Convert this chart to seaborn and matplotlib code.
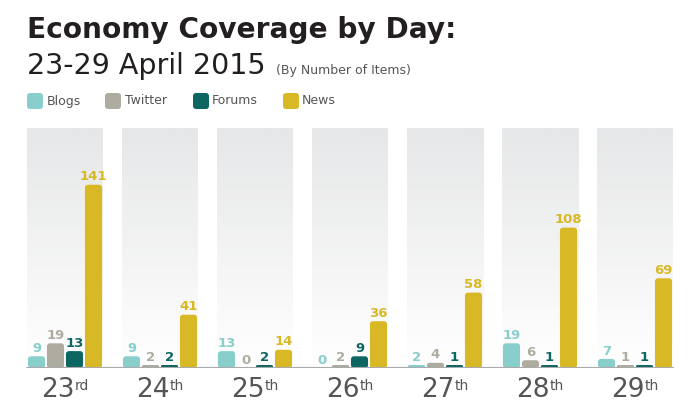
import matplotlib
matplotlib.use("Agg")
import matplotlib.pyplot as plt
import numpy as np
import pandas as pd
import seaborn as sns
from matplotlib.patches import FancyBboxPatch
from matplotlib.colors import LinearSegmentedColormap
from matplotlib.transforms import offset_copy

days = ["23rd", "24th", "25th", "26th", "27th", "28th", "29th"]
day_nums = ["23", "24", "25", "26", "27", "28", "29"]
day_sups = ["rd", "th", "th", "th", "th", "th", "th"]
series = ["Blogs", "Twitter", "Forums", "News"]
blogs = [9, 9, 13, 0, 2, 19, 7]
twitter = [19, 2, 0, 2, 4, 6, 1]
forums = [13, 2, 2, 9, 1, 1, 1]
news = [141, 41, 14, 36, 58, 108, 69]
colors = ["#88cfcc", "#aeaca0", "#0e6663", "#d9b826"]

df = pd.DataFrame({
    "day": days * 4,
    "source": [s for s in series for _ in days],
    "items": blogs + twitter + forums + news,
})

sns.set_theme(style="white")
plt.rcParams["font.family"] = ["DejaVu Sans"]

W, H = 690, 412
fig = plt.figure(figsize=(W / 100, H / 100), dpi=100)
ax_left, ax_right = 17.5, 682.5
base_y, top_y = 368, 128
ax = fig.add_axes([ax_left / W, (H - base_y) / H, (ax_right - ax_left) / W, (base_y - top_y) / H])
px_per_unit = 1.3
ymax = (base_y - top_y) / px_per_unit
x_per_px = 7.0 / (ax_right - ax_left)
y_per_px = 1.0 / px_per_unit

# gradient panels
cmap = LinearSegmentedColormap.from_list("g", ["#ffffff", "#e6e7e8"])
grad = np.linspace(1, 0, 200).reshape(-1, 1)
for i in range(len(days)):
    ax.imshow(grad, extent=[i - 0.4, i + 0.4, 0, ymax], aspect="auto", cmap=cmap,
              vmin=0, vmax=1, zorder=0, origin="upper")

sns.barplot(data=df, x="day", y="items", hue="source", hue_order=series,
            palette=colors, width=0.8, gap=0.1, ax=ax, legend=False, zorder=2,
            saturation=1, err_kws={"linewidth": 0})

# rounded bars (visual styling of the seaborn bars)
aspect = y_per_px / x_per_px
r_x = 3 * x_per_px
for cont, c in zip(ax.containers, colors):
    for bar in cont.patches:
        h = bar.get_height()
        if h <= 0:
            continue
        h_vis = max(h, 3 * y_per_px)
        r = min(r_x, (h_vis / aspect) / 2 * 0.99)
        fb = FancyBboxPatch((bar.get_x(), 0), bar.get_width(), h_vis,
                            boxstyle=f"round,pad=0,rounding_size={r}",
                            mutation_aspect=aspect, facecolor=c, edgecolor="none", zorder=2)
        ax.add_patch(fb)
        bar.set_visible(False)
    labels = ax.bar_label(cont, padding=1, color=c, fontsize=9.5, fontweight="bold")
    for lab, bar in zip(labels, cont.patches):
        h = bar.get_height()
        if 0 < h < 3 * y_per_px:
            lab.xy = (lab.xy[0], 3 * y_per_px)

ax.set_xlim(-0.5, len(days) - 0.5)
ax.set_ylim(0, ymax)
ax.set_xlabel("")
ax.set_ylabel("")
ax.set_yticks([])
ax.set_xticks(range(len(days)))
ax.set_xticklabels([])
ax.tick_params(axis="x", length=0)
for sp in ax.spines.values():
    sp.set_visible(False)
ax.axhline(0, xmin=(27 - ax_left) / (ax_right - ax_left), xmax=(673 - ax_left) / (ax_right - ax_left),
           color="#aaaaaa", linewidth=1.5, zorder=3)
ax.patch.set_alpha(0)

# day labels with superscripts
fig.canvas.draw()
renderer = fig.canvas.get_renderer()
trans = ax.get_xaxis_transform()
for i, (n, s) in enumerate(zip(day_nums, day_sups)):
    t1 = ax.text(i, 0, n, fontsize=19, color="#555555", ha="left", va="top",
                 transform=offset_copy(trans, fig=fig, x=0, y=-9, units="dots"))
    t2 = ax.text(i, 0, s, fontsize=10, color="#555555", ha="left", va="top",
                 transform=offset_copy(trans, fig=fig, x=0, y=-12, units="dots"))
    w1 = t1.get_window_extent(renderer).width
    w2 = t2.get_window_extent(renderer).width
    total = w1 + w2
    t1.set_transform(offset_copy(trans, fig=fig, x=-total / 2, y=-9, units="dots"))
    t2.set_transform(offset_copy(trans, fig=fig, x=-total / 2 + w1, y=-11, units="dots"))

# titles
fig.text(27 / W, 1 - 38 / H, "Economy Coverage by Day:", fontsize=20.2, fontweight="bold",
         color="#231f20", va="baseline")
fig.text(27 / W, 1 - 74 / H, "23-29 April 2015", fontsize=20.5, color="#231f20", va="baseline")
fig.text(276 / W, 1 - 74 / H, "(By Number of Items)", fontsize=9, color="#555555", va="baseline")

# legend
leg_x_box = [27, 105, 193, 283]
leg_x_txt = [47, 125, 212, 302]
for s, c, bx, tx in zip(series, colors, leg_x_box, leg_x_txt):
    p = FancyBboxPatch((bx, H - 109), 16, 16, boxstyle="round,pad=0,rounding_size=3",
                       facecolor=c, edgecolor="none", transform=None, figure=fig)
    fig.patches.append(p)
    fig.text(tx / W, 1 - 101 / H, s, fontsize=9, color="#555555", va="center")

fig.savefig("out.png", dpi=100)
